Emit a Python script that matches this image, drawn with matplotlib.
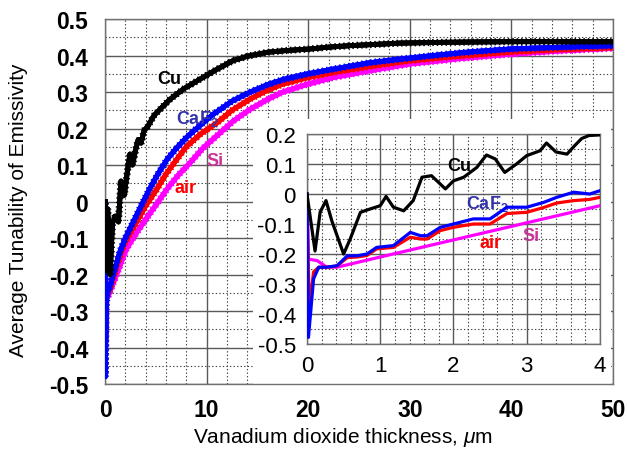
import matplotlib
matplotlib.use('Agg')
import matplotlib.pyplot as plt
import matplotlib.patheffects as pe
from matplotlib.patches import Rectangle
from matplotlib.ticker import MultipleLocator

plt.rcParams['font.family'] = ['Liberation Sans', 'DejaVu Sans']
plt.rcParams['mathtext.fontset'] = 'custom'
plt.rcParams['mathtext.it'] = 'Liberation Sans:italic'
plt.rcParams['mathtext.rm'] = 'Liberation Sans'
plt.rcParams['mathtext.bf'] = 'Liberation Sans:bold'

# full range, 0..50 um
cu_x = [0, 0.11, 0.26, 0.5, 0.73, 1.0, 1.18, 1.32, 1.57, 1.89, 2.14, 2.45, 2.7, 3.0, 3.27,
        3.55, 3.85, 4.2, 4.8, 5.5, 6.4, 7.7, 9.4, 11.0, 12.6, 14.0, 16.0, 18.0, 20.2, 22.0,
        24.1, 27.0, 29.0, 33.0, 36.0, 40.0, 45.0, 50.0]
cu_y = [0, -0.19, -0.02, -0.2, -0.06, -0.04, -0.045, -0.056, 0.056, 0.017, 0.07, 0.13, 0.1,
        0.14, 0.17, 0.16, 0.195, 0.205, 0.235, 0.255, 0.28, 0.308, 0.336, 0.362, 0.386, 0.398,
        0.409, 0.414, 0.418, 0.423, 0.427, 0.431, 0.434, 0.436, 0.437, 0.438, 0.438, 0.438]

caf2_x = [0, 0.03, 0.1, 0.2, 0.4, 0.8, 1.5, 2.0, 2.8, 3.5, 4.4, 5.2, 6.1, 7.0, 8.0, 9.0, 10.6,
          12.5, 14.3, 16.0, 17.5, 20.0, 22.5, 26.0, 29.0, 33.0, 36.0, 40.0, 45.0, 50.0]
caf2_y = [0, -0.48, -0.3, -0.25, -0.24, -0.2, -0.135, -0.1, -0.055, -0.015, 0.035, 0.075,
          0.115, 0.145, 0.175, 0.2, 0.238, 0.275, 0.3, 0.32, 0.334, 0.35, 0.363, 0.38, 0.39,
          0.402, 0.41, 0.418, 0.423, 0.427]

air_x = [0, 0.03, 0.1, 0.3, 0.5, 1.0, 1.8, 2.5, 3.1, 4.0, 5.1, 6.0, 7.05, 8.0, 9.4, 11.0,
         12.5, 14.3, 16.0, 17.5, 20.0, 22.5, 26.0, 30.0, 35.0, 40.0, 45.0, 50.0]
air_y = [0, -0.38, -0.26, -0.25, -0.24, -0.19, -0.121, -0.085, -0.057, -0.012, 0.034, 0.075,
         0.115, 0.15, 0.185, 0.215, 0.25, 0.281, 0.305, 0.322, 0.34, 0.354, 0.37, 0.386,
         0.399, 0.41, 0.417, 0.422]

si_x = [0, 0.02, 0.15, 0.3, 1.0, 2.1, 3.0, 3.8, 5.0, 6.1, 7.2, 8.4, 9.6, 11.0, 12.6, 14.3,
        16.0, 17.5, 20.0, 22.5, 26.0, 30.0, 35.0, 40.0, 45.0, 50.0]
si_y = [0, -0.22, -0.23, -0.26, -0.21, -0.13, -0.09, -0.057, -0.01, 0.034, 0.072, 0.107,
        0.145, 0.18, 0.22, 0.253, 0.28, 0.3, 0.322, 0.34, 0.358, 0.377, 0.392, 0.404, 0.413,
        0.42]

# zoom on the first 4 um
cu_zx = [0, 0.11, 0.18, 0.26, 0.34, 0.5, 0.59, 0.73, 0.86, 1.0, 1.08, 1.18, 1.32, 1.45, 1.57,
         1.7, 1.89, 2.0, 2.14, 2.32, 2.45, 2.57, 2.7, 2.86, 3.0, 3.18, 3.27, 3.4, 3.55, 3.65,
         3.75, 3.85, 4.0]
cu_zy = [0, -0.19, -0.06, -0.022, -0.09, -0.2, -0.15, -0.061, -0.05, -0.039, -0.008, -0.044,
         -0.056, -0.022, 0.056, 0.061, 0.017, 0.044, 0.056, 0.089, 0.13, 0.117, 0.072, 0.1,
         0.128, 0.144, 0.17, 0.14, 0.133, 0.16, 0.185, 0.195, 0.197]

caf2_zx = [0, 0.02, 0.09, 0.16, 0.27, 0.41, 0.55, 0.68, 0.82, 0.95, 1.18, 1.41, 1.55, 1.64,
           1.82, 2.0, 2.27, 2.5, 2.73, 3.0, 3.23, 3.41, 3.64, 3.86, 4.0]
caf2_zy = [0, -0.478, -0.283, -0.244, -0.244, -0.239, -0.206, -0.206, -0.2, -0.178, -0.172,
           -0.128, -0.139, -0.139, -0.111, -0.1, -0.083, -0.083, -0.044, -0.044, -0.028,
           -0.011, 0.006, 0.0, 0.011]

air_zx = [0, 0.03, 0.09, 0.16, 0.27, 0.41, 0.55, 0.68, 0.82, 0.95, 1.18, 1.41, 1.55, 1.64,
          1.82, 2.0, 2.27, 2.5, 2.73, 3.0, 3.23, 3.41, 3.64, 3.86, 4.0]
air_zy = [0, -0.383, -0.26, -0.244, -0.244, -0.24, -0.212, -0.21, -0.205, -0.183, -0.178,
          -0.144, -0.15, -0.15, -0.122, -0.111, -0.1, -0.1, -0.065, -0.061, -0.045, -0.03,
          -0.022, -0.018, -0.011]

si_zx = [0, 0.02, 0.14, 0.27, 0.41, 1.0, 2.0, 3.0, 4.0]
si_zy = [0, -0.217, -0.222, -0.244, -0.244, -0.21, -0.153, -0.096, -0.039]

xticks = [0, 10, 20, 30, 40, 50]
yticks = [-0.5, -0.4, -0.3, -0.2, -0.1, 0, 0.1, 0.2, 0.3, 0.4, 0.5]
zxticks = [0, 1, 2, 3, 4]
zyticks = [-0.5, -0.4, -0.3, -0.2, -0.1, 0, 0.1, 0.2]


def fmt(v):
    return '0' if v == 0 else ('%g' % v)


def beaded():
    # short ticks on both sides give the bumpy edge of the thick curves
    return [pe.withTickedStroke(spacing=3.2, angle=90, length=0.62, linewidth=1.1),
            pe.withTickedStroke(spacing=3.2, angle=-90, length=0.62, linewidth=1.1),
            pe.Normal()]


def style_grid(a):
    a.grid(which='major', color='#5a5a5a', linestyle='-', linewidth=1.0)
    a.grid(which='minor', color='#404040', linestyle=(0, (1.2, 2.0)), linewidth=0.8)
    for s in a.spines.values():
        s.set_color('#707070')
        s.set_linewidth(1.0)
    a.tick_params(which='both', length=0)


fig = plt.figure(figsize=(6.27, 4.52), dpi=100)
ax = fig.add_axes([0.1675, 0.1482, 0.8102, 0.8075])
ax.set_axisbelow(True)

lw = 3.5
ax.plot(cu_x, cu_y, color='black', lw=lw, path_effects=beaded(), zorder=5)
ax.plot(si_x, si_y, color='#ff00ff', lw=lw, path_effects=beaded(), zorder=2)
ax.plot(air_x, air_y, color='#ff0000', lw=lw, path_effects=beaded(), zorder=3)
ax.plot(caf2_x, caf2_y, color='#0000ff', lw=lw, path_effects=beaded(), zorder=4)

ax.set_xlim(0, 50)
ax.set_ylim(-0.5, 0.5)
ax.set_xticks(xticks)
ax.set_yticks(yticks)
ax.set_xticklabels([fmt(v) for v in xticks])
ax.set_yticklabels([fmt(v) for v in yticks])
ax.xaxis.set_minor_locator(MultipleLocator(2))
ax.yaxis.set_minor_locator(MultipleLocator(0.05))
style_grid(ax)
ax.tick_params(which='major', axis='y', labelsize=16.5, pad=12)
ax.tick_params(which='major', axis='x', labelsize=16.5, pad=10)
for lab in ax.get_xticklabels() + ax.get_yticklabels():
    lab.set_fontweight('bold')

ax.set_xlabel(r'Vanadium dioxide thickness, $\mu$m', fontsize=15)
ax.set_ylabel('Average Tunability of Emissivity', fontsize=15)
ax.xaxis.set_label_coords(0.468, -0.112)
ax.yaxis.set_label_coords(-0.152, 0.48)

ax.text(6.3, 0.336, 'Cu', color='black', fontsize=13, fontweight='bold',
        ha='center', va='center', zorder=6)
ax.text(7.0, 0.229, r'CaF$_\mathbf{2}$', color='#3333aa', fontsize=13, fontweight='bold',
        ha='left', va='center', zorder=6)
ax.text(10.8, 0.112, 'Si', color='#cc3399', fontsize=13, fontweight='bold',
        ha='center', va='center', zorder=6)
ax.text(7.9, 0.038, 'air', color='#ff0000', fontsize=13, fontweight='bold',
        ha='center', va='center', zorder=6)

# blank panel behind the zoomed view (covers the grid, keeps the frame)
ax.add_patch(Rectangle((0.291, 0.0), 0.706, 0.726, transform=ax.transAxes,
                       facecolor='white', edgecolor='none', zorder=1))

ins = fig.add_axes([0.4896, 0.2367, 0.4673, 0.4646])
ins.set_axisbelow(True)
ilw = 2.3
ins.plot(si_zx, si_zy, color='#ff00ff', lw=ilw, zorder=2)
ins.plot(air_zx, air_zy, color='#ff0000', lw=ilw, zorder=3)
ins.plot(caf2_zx, caf2_zy, color='#0000ff', lw=ilw, zorder=4)
ins.plot(cu_zx, cu_zy, color='black', lw=ilw, zorder=5)
ins.set_xlim(0, 4)
ins.set_ylim(-0.5, 0.2)
ins.set_xticks(zxticks)
ins.set_yticks(zyticks)
ins.set_xticklabels([fmt(v) for v in zxticks])
ins.set_yticklabels([fmt(v) for v in zyticks])
ins.xaxis.set_minor_locator(MultipleLocator(0.2))
ins.yaxis.set_minor_locator(MultipleLocator(0.05))
style_grid(ins)
ins.tick_params(which='major', labelsize=16, pad=8)

ins.text(2.08, 0.095, 'Cu', color='black', fontsize=13, fontweight='bold',
         ha='center', va='center')
ins.text(2.17, -0.03, r'CaF$_\mathbf{2}$', color='#3333aa', fontsize=13, fontweight='bold',
         ha='left', va='center')
ins.text(2.5, -0.16, 'air', color='#ff0000', fontsize=13, fontweight='bold',
         ha='center', va='center')
ins.text(3.06, -0.137, 'Si', color='#cc3399', fontsize=13, fontweight='bold',
         ha='center', va='center')

fig.savefig('out.png', dpi=100)
